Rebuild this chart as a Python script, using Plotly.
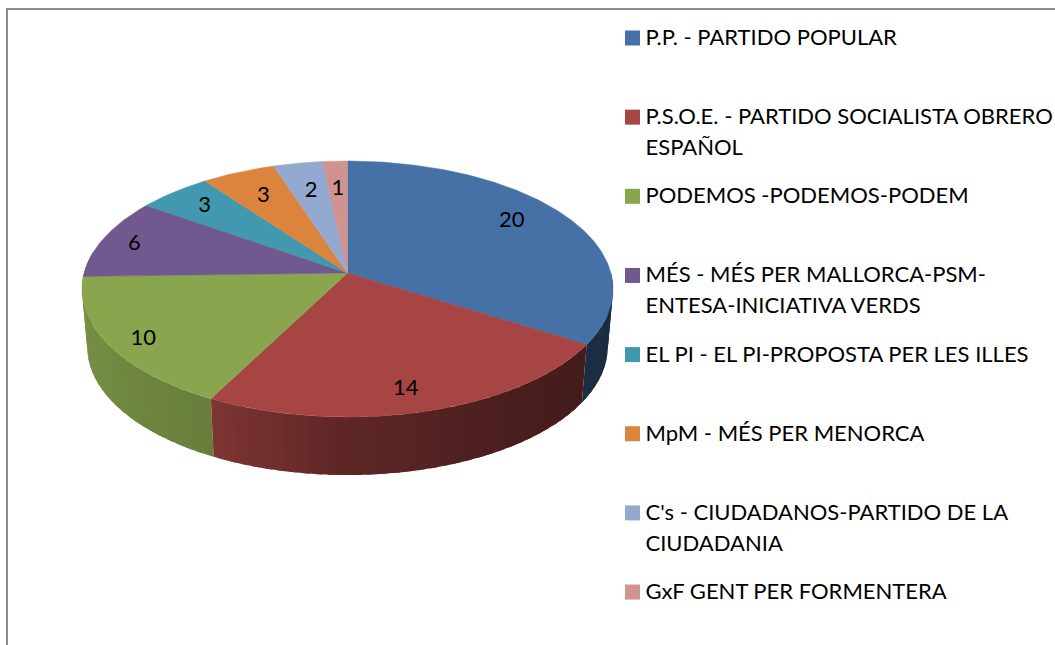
import numpy as np
import plotly.graph_objects as go

parties = ["P.P. - PARTIDO POPULAR",
           "P.S.O.E. - PARTIDO SOCIALISTA OBRERO\nESPAÑOL",
           "PODEMOS -PODEMOS-PODEM",
           "MÉS - MÉS PER MALLORCA-PSM-\nENTESA-INICIATIVA VERDS",
           "EL PI - EL PI-PROPOSTA PER LES ILLES",
           "MpM - MÉS PER MENORCA",
           "C's - CIUDADANOS-PARTIDO DE LA\nCIUDADANIA",
           "GxF GENT PER FORMENTERA"]
seats = [20, 14, 10, 6, 3, 3, 2, 1]
colors = ["#4571A6", "#A64543", "#89A54E", "#71588F", "#4198AF", "#DB843D", "#93A9CF", "#D19392"]

# Style / projection constants (pixel space of the 1055x645 page)
CX, CY = 347.5, 273.0
B, A, K = 263.4, 126.0, 0.125
DEPTH = 58.0
BOTTOM_SCALE = 0.98
LABEL_R = [0.75, 0.80, 0.87, 0.88, 0.81, 0.80, 0.75, 0.75]
LABEL_NUDGE_X = [-1, -3, 2, 2, 0, 5, 2, 0]
LABEL_NUDGE_Y = [-8, 9, 5, 3, 0, 6, 3, 3]
SHADE_T = [90, 122, 150, 180, 207, 240, 285]
SHADE_V = [0.38, 0.40, 0.45, 0.56, 0.76, 0.84, 0.90]
FONT = "Lato"
FSIZE = 22
LEGEND_SW_X, LEGEND_TX_X = 632.5, 645.5
LEGEND_Y0, LEGEND_DY = 38, 79.15
TEXT_DY = 1.5
LINE_DY = 31


def project(theta_deg, r=1.0):
    t = np.radians(theta_deg)
    x, y = r * np.sin(t), r * np.cos(t)
    d = 1 + K * y
    return CX + B * x / d, CY - A * y / d


def shade(hex_color, f):
    c = [int(hex_color[i:i + 2], 16) for i in (1, 3, 5)]
    return "rgb(%d,%d,%d)" % tuple(round(v * f) for v in c)


fig = go.Figure()

total = sum(seats)
edges = np.concatenate([[0], np.cumsum(seats)]) * 360.0 / total

# side wall: thin overlapping strips on the visible front arc, left-most drawn first
for i in [3, 2, 0, 1]:
    col = colors[i]
    a0, a1 = max(edges[i], 90.0), min(edges[i + 1], 280.0)
    if a1 <= a0:
        continue
    n = max(1, int((a1 - a0) / 2.5))
    steps = np.linspace(a0, a1, n + 1)
    for s0, s1 in zip(steps[:-1], steps[1:]):
        ts = np.linspace(s0, min(s1 + 1.5, a1), 5)
        px, py = project(ts)
        bx = CX + (px - CX) * BOTTOM_SCALE
        by = py + DEPTH
        xs = np.concatenate([px, bx[::-1]])
        ys = np.concatenate([py, by[::-1]])
        c = shade(col, float(np.interp((s0 + s1) / 2, SHADE_T, SHADE_V)))
        fig.add_trace(go.Scatter(x=xs, y=ys, fill="toself", fillcolor=c, mode="none",
                                 hoverinfo="skip", showlegend=False))

# top face wedges
for i, col in enumerate(colors):
    ts = np.linspace(edges[i], edges[i + 1], max(6, int(edges[i + 1] - edges[i]) * 2))
    px, py = project(ts)
    xs = np.concatenate([[CX], px, [CX]])
    ys = np.concatenate([[CY], py, [CY]])
    fig.add_trace(go.Scatter(x=xs, y=ys, fill="toself", fillcolor=col, mode="lines",
                             line=dict(color=col, width=0.5), name=parties[i].replace("\n", " "),
                             text=str(seats[i]), hoverinfo="name+text", showlegend=False))

# value labels
mids = (edges[:-1] + edges[1:]) / 2
lx, ly = zip(*[project(m, r) for m, r in zip(mids, LABEL_R)])
lx = [v + d for v, d in zip(lx, LABEL_NUDGE_X)]
ly = [v + d for v, d in zip(ly, LABEL_NUDGE_Y)]
fig.add_trace(go.Scatter(x=lx, y=ly, mode="text", text=[str(v) for v in seats],
                         textposition="middle center", textfont=dict(family=FONT, size=FSIZE, color="#000"),
                         hoverinfo="skip", showlegend=False))

# legend
sw_y, tx, ty, tt = [], [], [], []
for i, name in enumerate(parties):
    y0 = LEGEND_Y0 + i * LEGEND_DY
    sw_y.append(y0)
    for j, line in enumerate(name.split("\n")):
        tx.append(LEGEND_TX_X)
        ty.append(y0 + TEXT_DY + j * LINE_DY)
        tt.append(line)
fig.add_trace(go.Scatter(x=[LEGEND_SW_X] * len(sw_y), y=sw_y, mode="markers",
                         marker=dict(symbol="square", size=15, color=colors, line=dict(width=0)),
                         hoverinfo="skip", showlegend=False))
fig.add_trace(go.Scatter(x=tx, y=ty, mode="text", text=tt, textposition="middle right",
                         textfont=dict(family=FONT, size=FSIZE, color="#000"),
                         hoverinfo="skip", showlegend=False))

# chart-area border (top and left edges are visible)
border = dict(color="#8c8c8c", width=2)
fig.update_layout(
    width=1055, height=645, margin=dict(l=0, r=0, t=0, b=0),
    paper_bgcolor="white", plot_bgcolor="white", showlegend=False,
    xaxis=dict(range=[0, 1055], visible=False, fixedrange=True),
    yaxis=dict(range=[645, 0], visible=False, fixedrange=True),
    shapes=[
        dict(type="line", xref="x", yref="y", x0=7, x1=7, y0=9, y1=645, line=border),
        dict(type="line", xref="x", yref="y", x0=6, x1=1055, y0=9, y1=9, line=border),
    ],
)
fig.write_html("out.html", config={"displayModeBar": False},
               post_script="document.body.style.margin='0';document.body.style.overflow='hidden';")
